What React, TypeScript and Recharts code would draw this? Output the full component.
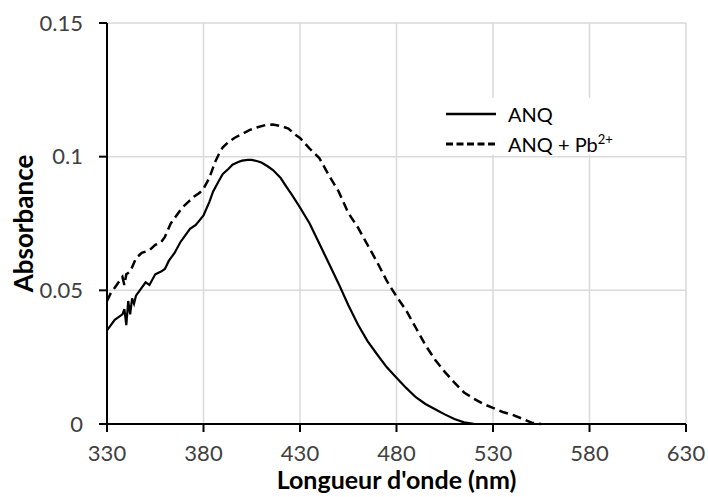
import { LineChart, Line, XAxis, YAxis, CartesianGrid, Label } from 'recharts';

document.body.style.margin = '0';

const FONT = 'Lato, "Open Sans", sans-serif';

const X_TICKS = [330, 380, 430, 480, 530, 580, 630];
const Y_TICKS = [0, 0.05, 0.1, 0.15];

// ANQ alone (solid)
const anqNm = [
  330, 332, 334, 336, 338, 339, 340, 341, 342, 343, 344, 345, 347, 350, 352, 355, 358, 360, 362, 365,
  368, 370, 373, 376, 380, 383, 385, 388, 390, 393, 395, 398, 400, 403, 405, 408, 410, 413, 416, 420,
  423, 426, 430, 435, 440, 445, 450, 455, 460, 465, 470, 475, 480, 485, 490, 495, 500, 505, 510, 515, 520,
];
const anqAbs = [
  0.035, 0.037, 0.039, 0.04, 0.041, 0.043, 0.037, 0.046, 0.041, 0.047, 0.045, 0.048, 0.05, 0.053, 0.052,
  0.056, 0.057, 0.058, 0.061, 0.064, 0.068, 0.07, 0.073, 0.0745, 0.078, 0.083, 0.087, 0.091, 0.0935,
  0.0955, 0.097, 0.098, 0.0985, 0.0988, 0.0988, 0.0983, 0.0978, 0.0965, 0.095, 0.092, 0.0887, 0.0855,
  0.081, 0.075, 0.0675, 0.06, 0.0525, 0.0445, 0.0372, 0.031, 0.026, 0.0212, 0.0173, 0.0135, 0.01,
  0.0075, 0.0055, 0.0036, 0.0019, 0.0006, 0.0001,
];

// ANQ + Pb2+ (dashed)
const pbNm = [
  330, 332, 334, 336, 338, 339, 340, 342, 345, 348, 350, 352, 355, 358, 360, 363, 366, 369, 372, 375,
  378, 380, 383, 386, 388, 390, 393, 396, 400, 404, 408, 412, 416, 420, 424, 428, 430, 435, 440, 445,
  450, 455, 460, 465, 470, 475, 480, 485, 490, 495, 500, 505, 510, 515, 520, 525, 530, 535, 540, 545,
  550, 555,
];
const pbAbs = [
  0.046, 0.049, 0.051, 0.053, 0.055, 0.052, 0.056, 0.057, 0.062, 0.064, 0.0645, 0.065, 0.067, 0.068,
  0.07, 0.075, 0.078, 0.081, 0.083, 0.085, 0.0865, 0.088, 0.092, 0.098, 0.101, 0.1035, 0.1055, 0.107,
  0.1085, 0.11, 0.111, 0.1118, 0.112, 0.1115, 0.1105, 0.108, 0.107, 0.103, 0.0995, 0.093, 0.087, 0.079,
  0.0735, 0.067, 0.0605, 0.0535, 0.0477, 0.0425, 0.036, 0.0295, 0.024, 0.0195, 0.0155, 0.0118, 0.0095,
  0.0075, 0.006, 0.0045, 0.0035, 0.002, 0.0005, 0,
];

const anq = anqNm.map((nm, i) => ({ nm, abs: anqAbs[i] }));
const anqPb = pbNm.map((nm, i) => ({ nm, abs: pbAbs[i] }));

const tickStyle = { fill: '#404040', fontSize: 22, fontFamily: FONT };

const YTitle = ({ viewBox }: any) => (
  <text
    x={23}
    y={viewBox.y + viewBox.height / 2}
    transform={`rotate(-90, 23, ${viewBox.y + viewBox.height / 2})`}
    textAnchor="middle"
    dominantBaseline="central"
    fontFamily={FONT}
    fontWeight="bold"
    fontSize={26}
    fill="#000"
  >
    Absorbance
  </text>
);

const XTitle = ({ viewBox }: any) => (
  <text
    x={viewBox.x + viewBox.width / 2}
    y={489}
    textAnchor="middle"
    fontFamily={FONT}
    fontWeight="bold"
    fontSize={25}
    fill="#000"
  >
    Longueur d'onde (nm)
  </text>
);

const legendText = { fontFamily: FONT, fontSize: 20, color: '#000', marginLeft: 12 };

const App = () => {
  return (
    <div style={{ position: 'relative', width: 708, height: 497 }}>
      <LineChart width={708} height={497} margin={{ top: 23, right: 22, bottom: 0, left: 0 }}>
        <CartesianGrid stroke="#d9d9d9" strokeWidth={1.5} />
        <XAxis
          type="number"
          dataKey="nm"
          domain={[330, 630]}
          ticks={X_TICKS}
          height={73}
          stroke="#000"
          strokeWidth={2}
          tickSize={8}
          tickMargin={13}
          tick={tickStyle}
          allowDataOverflow
        >
          <Label content={XTitle} />
        </XAxis>
        <YAxis
          type="number"
          domain={[0, 0.15]}
          ticks={Y_TICKS}
          width={107}
          stroke="#000"
          strokeWidth={2}
          tickSize={8}
          tickMargin={16}
          tick={tickStyle}
        >
          <Label content={YTitle} />
        </YAxis>
        <Line
          data={anq}
          dataKey="abs"
          type="linear"
          stroke="#000"
          strokeWidth={2.2}
          dot={false}
          isAnimationActive={false}
        />
        <Line
          data={anqPb}
          dataKey="abs"
          type="linear"
          stroke="#000"
          strokeWidth={2.5}
          strokeDasharray="9 5"
          dot={false}
          isAnimationActive={false}
        />
      </LineChart>
      <div
        style={{
          position: 'absolute',
          left: 441,
          top: 98,
          width: 185,
          height: 57,
          background: '#fff',
          fontFamily: FONT,
        }}
      >
        <div style={{ display: 'flex', alignItems: 'center', position: 'absolute', left: 5, top: 4 }}>
          <svg width={50} height={20}>
            <line x1={0} y1={10} x2={50} y2={10} stroke="#000" strokeWidth={2.5} />
          </svg>
          <span style={legendText}>ANQ</span>
        </div>
        <div style={{ display: 'flex', alignItems: 'center', position: 'absolute', left: 5, top: 34 }}>
          <svg width={50} height={20}>
            <line x1={0} y1={10} x2={50} y2={10} stroke="#000" strokeWidth={2.8} strokeDasharray="7 3.5" />
          </svg>
          <span style={legendText}>
            ANQ + Pb<sup style={{ fontSize: 13, verticalAlign: 'super', lineHeight: 0 }}>2+</sup>
          </span>
        </div>
      </div>
    </div>
  );
};

export default App;
